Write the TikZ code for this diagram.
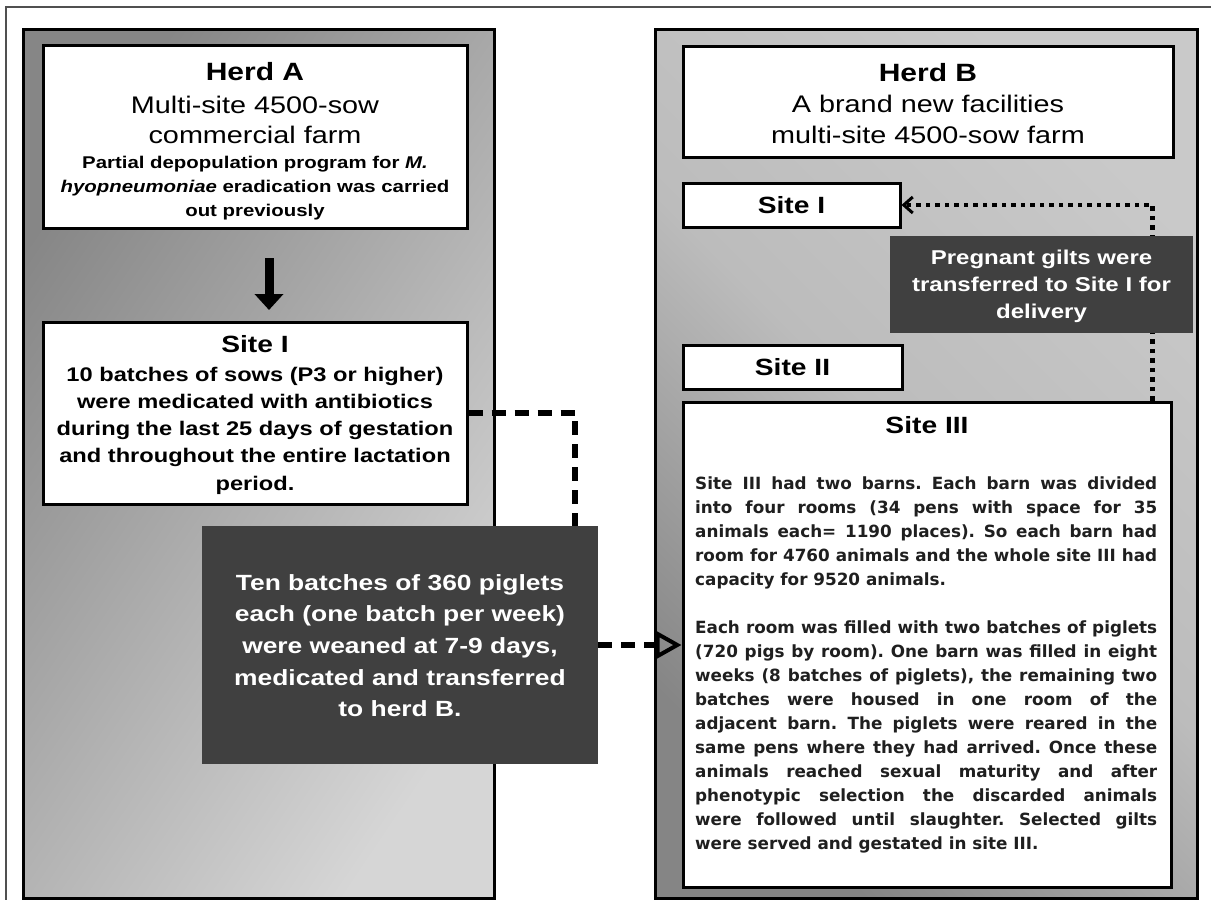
\documentclass[tikz,border=0pt]{standalone}
\usepackage{fontspec}
\setmainfont{Liberation Sans}[FakeStretch=1.2]
\newfontfamily\bodyfont{DejaVu Sans}
\usetikzlibrary{arrows.meta}
\definecolor{darkbox}{HTML}{404040}
\definecolor{frameg}{HTML}{505050}
\definecolor{gAdark}{HTML}{868686}
\definecolor{gAlight}{HTML}{D6D6D6}
\definecolor{gBlight}{HTML}{C9C9C9}
\definecolor{gBmid}{HTML}{BCBCBC}
\definecolor{gBdark}{HTML}{858585}
\newcommand\cstk[1]{\vtop{\halign{\hfil##\hfil\cr#1\crcr}}}
\newcommand\setfs[2]{\fontsize{#1pt}{#2pt}\selectfont}
\newcommand\jline[1]{\hbox to\hsize{#1}}
\frenchspacing
\begin{document}
\begin{tikzpicture}[x=1pt,y=-1pt,
  panel/.style={draw=black, line width=3pt, rectangle, inner sep=0pt},
  wbox/.style={draw=black, line width=3pt, fill=white, rectangle, inner sep=0pt},
  dbox/.style={fill=darkbox, rectangle, inner sep=0pt},
  txt/.style={inner sep=0pt, anchor=base},
  sitehead/.style={font=\setfs{23.5}{24}\bfseries},
  dashconn/.style={line width=6pt, dash pattern=on 14pt off 9pt},
  dotconn/.style={line width=4.5pt, dash pattern=on 4.5pt off 5pt},
  bigarrow/.style={line width=9pt, -{Triangle[length=16pt,width=28pt]}},
]
\useasboundingbox (0,0) rectangle (1211,900);
\clip (0,0) rectangle (1211,900);
\fill[white] (0,0) rectangle (1211,900);
\draw[frameg, line width=1.8pt] (6,7) rectangle (1220,910);

% panels
\node[panel, minimum width=471pt, minimum height=869pt,
      top color=gAdark, bottom color=gAlight, shading angle=56] (pA) at (258.5,463.5) {};
\node[panel, minimum width=542pt, minimum height=869pt,
      top color=gBlight, bottom color=gBdark, middle color=gBmid, shading angle=-45] (pB) at (926,463.5) {};

% Herd A
\node[wbox, minimum width=424pt, minimum height=183pt] (hA) at (255,136.5) {};
\node[txt, font=\setfs{24}{24}] (hAt) at (255,80) {\cstk{{\setfs{25}{24}\bfseries Herd A}\cr\noalign{\vskip9pt}Multi-site 4500-sow\cr\noalign{\vskip6pt}commercial farm\cr\noalign{\vskip1pt}{\setfs{17}{24}\bfseries Partial depopulation program for \textit{M.}}\cr{\setfs{17}{24}\bfseries\textit{hyopneumoniae} eradication was carried}\cr{\setfs{17}{24}\bfseries out previously}}};

\node[wbox, minimum width=424pt, minimum height=182pt] (s1a) at (255,413) {};
\node[txt, font=\setfs{19.7}{27.3}\bfseries] (s1at) at (255,352) {\cstk{{\setfs{23.5}{24}Site I}\cr\noalign{\vskip1.7pt}10 batches of sows (P3 or higher)\cr were medicated with antibiotics\cr during the last 25 days of gestation\cr and throughout the entire lactation\cr period.}};

\node[dbox, minimum width=396pt, minimum height=238pt] (dark) at (400,645) {};
\node[txt, text=white, font=\setfs{22}{31.7}\bfseries] (darkt) at (400,590) {\cstk{Ten batches of 360 piglets\cr each (one batch per week)\cr were weaned at 7-9 days,\cr medicated and transferred\cr to herd B.}};

% Herd B
\node[wbox, minimum width=490pt, minimum height=111pt] (hB) at (928,101.5) {};
\node[txt, font=\setfs{24}{24}] (hBt) at (928,81) {\cstk{{\setfs{25}{24}\bfseries Herd B}\cr\noalign{\vskip7pt}A brand new facilities\cr\noalign{\vskip7pt}multi-site 4500-sow farm}};

\node[wbox, sitehead, minimum width=217pt, minimum height=44pt] (s1b) at (791.5,205) {Site I};
\node[wbox, sitehead, minimum width=219pt, minimum height=44pt] (s2) at (792.5,367) {Site II};

\node[wbox, minimum width=488pt, minimum height=485pt] (s3) at (927,644.5) {};
\node[txt, sitehead] (s3h) at (927,433) {Site III};
\node[inner sep=0pt, anchor=base west, text=black!88, font=\bodyfont\bfseries\setfs{16.8}{24}] (s3t) at (695,489) {\vtop{\hsize=462pt \baselineskip=24pt
\jline{Site III had two barns. Each barn was divided}
\jline{into four rooms (34 pens with space for 35}
\jline{animals each= 1190 places). So each barn had}
\jline{room for 4760 animals and the whole site III had}
\hbox{capacity for 9520 animals.}
\vskip24pt
\jline{Each room was filled with two batches of piglets}
\jline{(720 pigs by room). One barn was filled in eight}
\jline{weeks (8 batches of piglets), the remaining two}
\jline{batches were housed in one room of the}
\jline{adjacent barn. The piglets were reared in the}
\jline{same pens where they had arrived. Once these}
\jline{animals reached sexual maturity and after}
\jline{phenotypic selection the discarded animals}
\jline{were followed until slaughter. Selected gilts}
\hbox{were served and gestated in site III.}}};

% connectors
\draw[bigarrow, shorten <=28.5pt, shorten >=10.5pt] ([xshift=14pt]hA.south) -- ([xshift=14pt]s1a.north);
\draw[dashconn] (s1a.east) -| ([xshift=-23pt]dark.north east);
\draw[dashconn, -{Triangle[open, length=26pt, width=28pt, line width=4pt]}] (dark.east) -- (dark.east -| s3.west);
\draw[dotconn, -{Straight Barb[length=9pt, width=16pt, line width=3pt]}] ([xshift=-20pt]s3.north east) |- (s1b.east);

\node[dbox, minimum width=303pt, minimum height=97pt] (preg) at (1041.5,284.5) {};
\node[txt, text=white, font=\setfs{20}{27}\bfseries] (pregt) at (1041.5,264) {\cstk{Pregnant gilts were\cr transferred to Site I for\cr delivery}};
\end{tikzpicture}
\end{document}
